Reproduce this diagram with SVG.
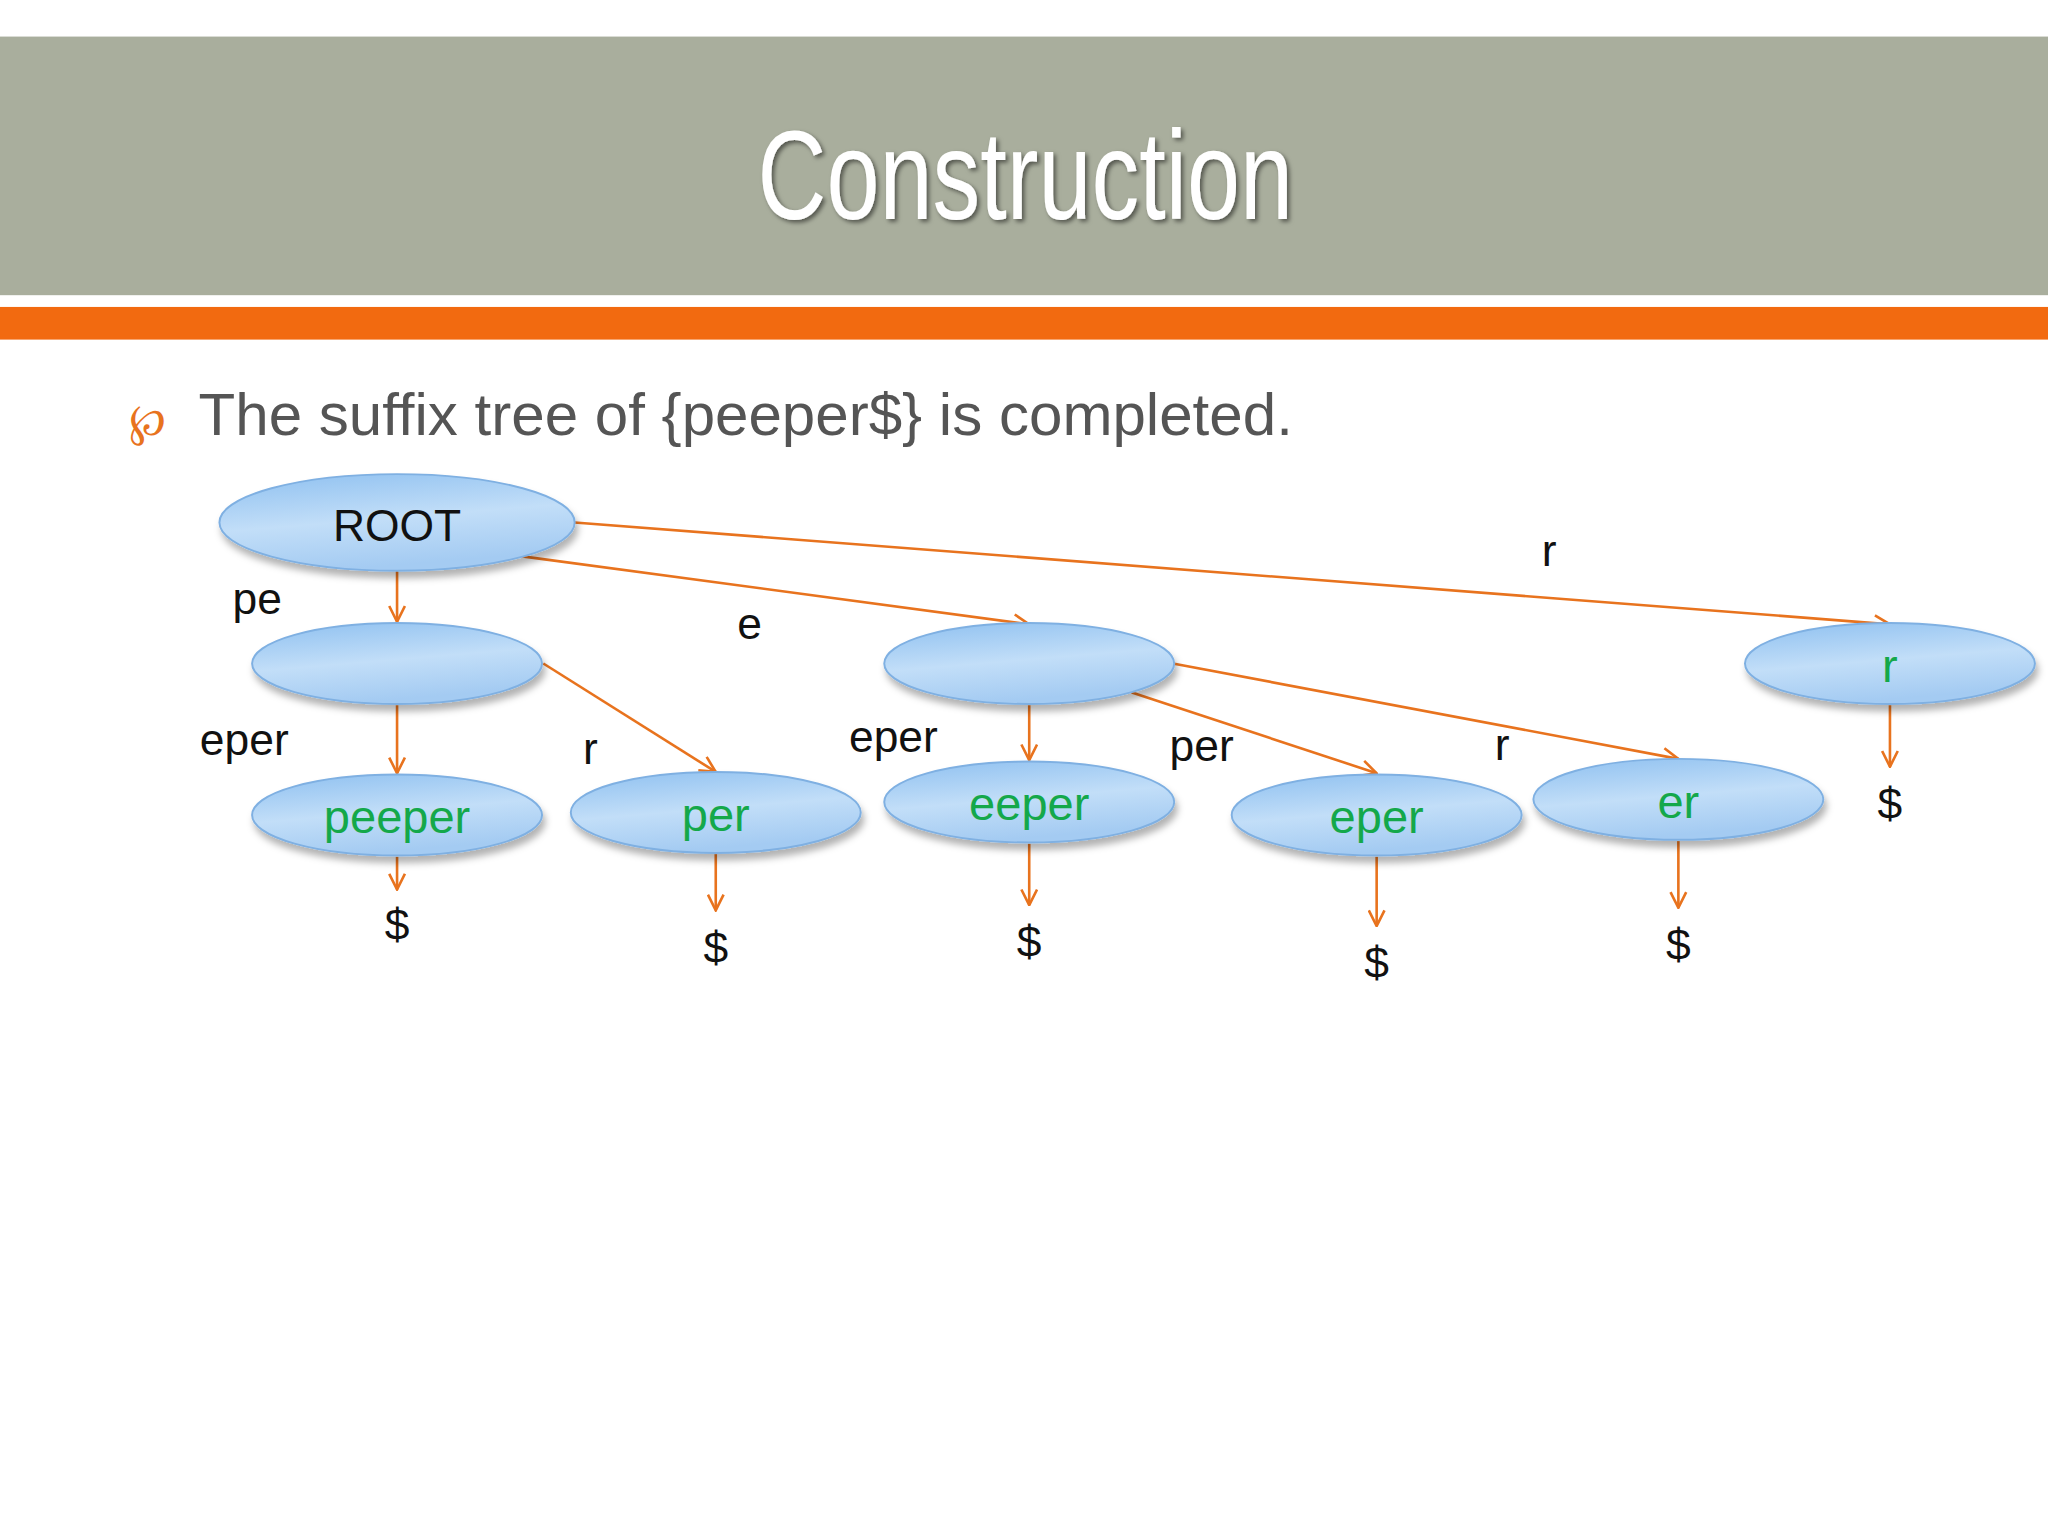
<svg xmlns="http://www.w3.org/2000/svg" width="2048" height="1536" viewBox="0 0 2048 1536">
<defs>
<linearGradient id="nf" x1="0" y1="0" x2="0.3" y2="1">
<stop offset="0" stop-color="#8EC0F0"/><stop offset="0.55" stop-color="#C2DEF8"/><stop offset="1" stop-color="#A4CBF2"/>
</linearGradient>
<filter id="sh" x="-20%" y="-30%" width="140%" height="170%"><feDropShadow dx="2" dy="5" stdDeviation="3" flood-color="#000" flood-opacity="0.3"/></filter>
<filter id="tsh"><feDropShadow dx="2" dy="2" stdDeviation="1.5" flood-color="#000" flood-opacity="0.5"/></filter>
<marker id="ar" viewBox="0 0 14 14" refX="13" refY="7" markerWidth="14" markerHeight="14" markerUnits="userSpaceOnUse" orient="auto"><path d="M1,1 L13,7 L1,13" fill="none" stroke="#E8731E" stroke-width="2"/></marker>
</defs>
<style>
.n{fill:url(#nf);stroke:#7FB0E2;stroke-width:1.5;filter:url(#sh)}
.t{font-family:"Liberation Sans",Arial,sans-serif;text-anchor:middle}
.g{fill:#14A84A;font-size:36px}
.k{fill:#111;font-size:34px}
.e line{stroke:#E8731E;stroke-width:2;marker-end:url(#ar)}
</style>
<rect width="2048" height="1536" fill="#FFFFFF"/>
<g transform="scale(1.30612)">
<rect x="0" y="28" width="1568" height="198" fill="#A9AE9D"/>
<rect x="0" y="235" width="1568" height="25" fill="#F26A10"/>
<text x="785" y="168" class="t" font-family="'DejaVu Serif Condensed','DejaVu Serif',serif" font-size="96" fill="#fff" textLength="410" lengthAdjust="spacingAndGlyphs" filter="url(#tsh)">Construction</text>
<text x="113" y="333" class="t" font-size="34" fill="#E8731E" font-family="'DejaVu Sans',sans-serif">℘</text>
<text x="152" y="333" font-family="'Liberation Sans',Arial,sans-serif" font-size="46" fill="#555">The suffix tree of {peeper$} is completed.</text>
<g class="e" id="edges">
<line x1="304" y1="437" x2="304" y2="476"/>
<line x1="400" y1="426" x2="788" y2="478"/>
<line x1="440" y1="400" x2="1447" y2="478"/>
<line x1="304" y1="540" x2="304" y2="592"/>
<line x1="416" y1="508" x2="548" y2="591"/>
<line x1="788" y1="540" x2="788" y2="582"/>
<line x1="866" y1="530" x2="1054" y2="592"/>
<line x1="898" y1="508" x2="1285" y2="581"/>
<line x1="1447" y1="540" x2="1447" y2="587"/>
<line x1="304" y1="656" x2="304" y2="681"/>
<line x1="548" y1="654" x2="548" y2="697"/>
<line x1="788" y1="646" x2="788" y2="693"/>
<line x1="1054" y1="656" x2="1054" y2="709"/>
<line x1="1285" y1="644" x2="1285" y2="695"/>
</g>
<g id="root"><ellipse class="n" cx="304" cy="400" rx="136" ry="37"/><text class="t k" x="304" y="414">ROOT</text></g>
<g id="pe"><ellipse class="n" cx="304" cy="508" rx="111" ry="31"/></g>
<g id="e"><ellipse class="n" cx="788" cy="508" rx="111" ry="31"/></g>
<g id="r"><ellipse class="n" cx="1447" cy="508" rx="111" ry="31"/><text class="t g" x="1447" y="522">r</text></g>
<g id="peeper"><ellipse class="n" cx="304" cy="624" rx="111" ry="31"/><text class="t g" x="304" y="638">peeper</text></g>
<g id="per"><ellipse class="n" cx="548" cy="622" rx="111" ry="31"/><text class="t g" x="548" y="636">per</text></g>
<g id="eeper"><ellipse class="n" cx="788" cy="614" rx="111" ry="31"/><text class="t g" x="788" y="628">eeper</text></g>
<g id="eper"><ellipse class="n" cx="1054" cy="624" rx="111" ry="31"/><text class="t g" x="1054" y="638">eper</text></g>
<g id="er"><ellipse class="n" cx="1285" cy="612" rx="111" ry="31"/><text class="t g" x="1285" y="626">er</text></g>
<g id="labels">
<text class="t k" x="197" y="470">pe</text>
<text class="t k" x="574" y="489">e</text>
<text class="t k" x="1186" y="433">r</text>
<text class="t k" x="187" y="578">eper</text>
<text class="t k" x="452" y="585">r</text>
<text class="t k" x="684" y="576">eper</text>
<text class="t k" x="920" y="583">per</text>
<text class="t k" x="1150" y="582">r</text>
<text class="t k" x="304" y="720">$</text>
<text class="t k" x="548" y="737">$</text>
<text class="t k" x="788" y="733">$</text>
<text class="t k" x="1054" y="749">$</text>
<text class="t k" x="1285" y="735">$</text>
<text class="t k" x="1447" y="627">$</text>
</g>
</g>
</svg>
